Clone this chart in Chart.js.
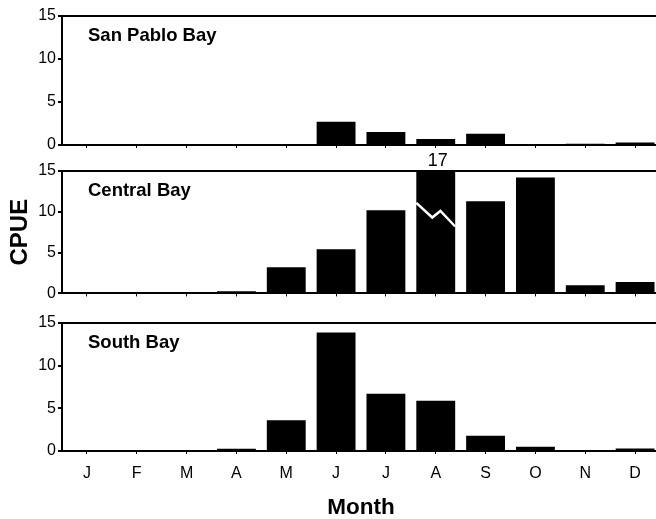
<!DOCTYPE html>
<html>
<head>
<meta charset="utf-8">
<title>CPUE by month</title>
<script src="https://cdn.jsdelivr.net/npm/chart.js@4.4.0/dist/chart.umd.min.js"></script>
<style>
  html, body { margin: 0; padding: 0; background: #fff; overflow: hidden; }
  #wrap { position: relative; width: 656px; height: 519px; overflow: hidden; }
  canvas { position: absolute; left: 0; }
</style>
</head>
<body>
<div id="wrap">
  <canvas id="sanPabloChart" width="660" height="160" style="top:0px"></canvas>
  <canvas id="centralChart" width="660" height="155" style="top:150px"></canvas>
  <canvas id="southChart" width="660" height="219" style="top:300px"></canvas>
</div>
<script>
// values
var months = ['J', 'F', 'M', 'A', 'M', 'J', 'J', 'A', 'S', 'O', 'N', 'D'];
var sanPabloCpue = [0, 0, 0, 0, 0.1, 2.7, 1.5, 0.7, 1.3, 0.1, 0.15, 0.3];
var centralCpue = [0, 0, 0, 0.25, 3.2, 5.4, 10.2, 17, 11.3, 14.2, 1.0, 1.4];
var southCpue = [0.1, 0.1, 0.1, 0.25, 3.6, 13.9, 6.7, 5.9, 1.8, 0.5, 0, 0.3];
var yTicks = [0, 5, 10, 15];

var FONT = '"Liberation Sans", Arial, Helvetica, sans-serif';
Chart.defaults.font.family = FONT;
Chart.defaults.color = '#000';

// bay name inside the top-left of each panel
var panelLabel = {
    id: 'panelLabel',
    afterDraw: function(chart, args, opts) {
        var ctx = chart.ctx, area = chart.chartArea;
        ctx.save();
        ctx.fillStyle = '#000';
        ctx.font = 'bold 18.5px ' + FONT;
        ctx.textAlign = 'left';
        ctx.textBaseline = 'middle';
        ctx.fillText(opts.text, area.left + 26, area.top + 20);
        ctx.restore();
    }
};

// bars taller than the axis get a break mark and their value on top
var brokenBar = {
    id: 'brokenBar',
    afterDatasetsDraw: function(chart) {
        var ctx = chart.ctx, y = chart.scales.y;
        var meta = chart.getDatasetMeta(0);
        chart.data.datasets[0].data.forEach(function(v, i) {
            if (v <= y.max) return;
            var bar = meta.data[i];
            var left = bar.x - bar.width / 2, w = bar.width;
            ctx.save();
            ctx.strokeStyle = '#fff';
            ctx.lineWidth = 2.5;
            ctx.beginPath();
            ctx.moveTo(left, y.getPixelForValue(11.1));
            ctx.lineTo(left + 0.41 * w, y.getPixelForValue(9.3));
            ctx.lineTo(left + 0.62 * w, y.getPixelForValue(10.1));
            ctx.lineTo(left + w, y.getPixelForValue(8.2));
            ctx.stroke();
            ctx.fillStyle = '#000';
            ctx.font = '18px ' + FONT;
            ctx.textAlign = 'center';
            ctx.textBaseline = 'middle';
            ctx.fillText(String(v), bar.x + 2, chart.chartArea.top - 10);
            ctx.restore();
        });
    }
};

function makePanel(id, name, values, padTop, xHeight, bottomPanel, yTitle) {
    return new Chart(document.getElementById(id), {
        type: 'bar',
        data: {
            labels: months,
            datasets: [{
                label: name,
                data: values,
                backgroundColor: '#000',
                borderWidth: 0,
                barPercentage: 0.78,
                categoryPercentage: 1
            }]
        },
        options: {
            responsive: false,
            animation: false,
            layout: { padding: { top: padTop, left: 0, right: 0, bottom: 0 } },
            plugins: {
                legend: { display: false },
                tooltip: { enabled: false },
                panelLabel: { text: name }
            },
            scales: {
                x: {
                    grid: {
                        display: true,
                        offset: false,
                        drawOnChartArea: false,
                        drawTicks: true,
                        tickLength: 3,
                        color: '#000'
                    },
                    border: { display: true, color: '#000', width: 2 },
                    ticks: {
                        display: bottomPanel,
                        padding: 10,
                        font: { size: 16 }
                    },
                    title: {
                        display: bottomPanel,
                        text: 'Month',
                        font: { size: 22.5, weight: 'bold', lineHeight: 1 },
                        padding: { top: 0, bottom: 0 }
                    },
                    afterFit: function(s) { s.height = xHeight; }
                },
                y: {
                    min: 0,
                    max: 15,
                    afterBuildTicks: function(s) {
                        s.ticks = yTicks.map(function(v) { return { value: v }; });
                    },
                    grid: {
                        drawTicks: true,
                        tickLength: 4,
                        tickColor: '#000',
                        lineWidth: 2,
                        color: function(c) {
                            return c.tick && c.tick.value === 15 ? '#000' : 'rgba(0,0,0,0)';
                        }
                    },
                    border: { display: true, color: '#000', width: 2 },
                    ticks: { padding: 2, font: { size: 16 } },
                    title: {
                        display: !!yTitle,
                        text: yTitle || '',
                        font: { size: 24, weight: 'bold', lineHeight: 1 },
                        padding: { top: 8, bottom: 0 }
                    },
                    afterFit: function(s) { s.width = 62; }
                }
            }
        },
        plugins: [panelLabel, brokenBar]
    });
}

makePanel('sanPabloChart', 'San Pablo Bay', sanPabloCpue, 16, 15, false, null);
makePanel('centralChart', 'Central Bay', centralCpue, 21, 10, false, 'CPUE');
makePanel('southChart', 'South Bay', southCpue, 23, 68, true, null);
</script>
</body>
</html>
